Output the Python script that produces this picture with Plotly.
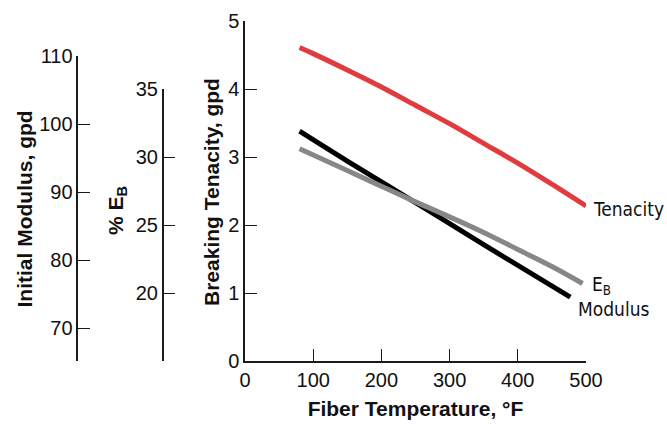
import plotly.graph_objects as go

# ---- data ----
temp_tenacity = [80, 100, 150, 200, 250, 300, 350, 400, 450, 500]
tenacity = [4.61, 4.52, 4.28, 4.03, 3.76, 3.49, 3.20, 2.91, 2.60, 2.28]

temp_modulus = [80, 150, 250, 350, 477]
modulus = [99.0, 94.6, 88.5, 82.3, 74.6]

temp_eb = [80, 150, 200, 250, 300, 350, 400, 450, 495]
eb = [30.6, 29.0, 27.85, 26.7, 25.6, 24.45, 23.2, 21.95, 20.7]

x_ticks = [0, 100, 200, 300, 400, 500]
tenacity_ticks = [0, 1, 2, 3, 4, 5]
modulus_ticks = [70, 80, 90, 100, 110]
eb_ticks = [20, 25, 30, 35]

series_names = ["Tenacity", "Modulus", "E<sub>B</sub>"]

# ---- styling ----
FONT = "Liberation Sans, Arial, Helvetica, sans-serif"
NARROW = "Liberation Sans Narrow, DejaVu Sans Condensed, Arial Narrow, sans-serif"
RED = "#e03c40"
GRAY = "#878787"
BLACK = "#000000"
AXC = "#1a1a1a"

fig = go.Figure()
fig.add_trace(go.Scatter(x=temp_tenacity, y=tenacity, mode="lines", name=series_names[0],
                         line=dict(color=RED, width=5, shape="spline"), xaxis="x", yaxis="y"))
fig.add_trace(go.Scatter(x=temp_eb, y=eb, mode="lines", name="EB",
                         line=dict(color=GRAY, width=5, shape="spline"), xaxis="x", yaxis="y3"))
fig.add_trace(go.Scatter(x=temp_modulus, y=modulus, mode="lines", name=series_names[1],
                         line=dict(color=BLACK, width=5, shape="spline"), xaxis="x", yaxis="y2"))

common = dict(showgrid=False, zeroline=False, showline=True, linecolor=AXC, linewidth=1.5,
              ticks="inside", ticklen=12, tickwidth=1.4, tickcolor=AXC,
              tickfont=dict(family=FONT, size=20, color="#111"), automargin=False)

fig.update_layout(
    width=667, height=424,
    template="none",
    paper_bgcolor="white", plot_bgcolor="rgba(0,0,0,0)",
    showlegend=False,
    margin=dict(l=0, r=81, t=21, b=63),
    xaxis=dict(domain=[245 / 586, 1], range=[0, 500], tickvals=x_ticks, anchor="y",
               title=dict(text="<b>Fiber Temperature, °F</b>", font=dict(family=FONT, size=21, color="#111"),
                          standoff=12),
               **common),
    yaxis=dict(domain=[0, 1], range=[0, 5], tickvals=tenacity_ticks, anchor="x", **common),
    yaxis2=dict(domain=[0, 0.896], range=[65.2, 110], tickvals=modulus_ticks, anchor="free",
                position=77.3 / 586, side="left", **common),
    yaxis3=dict(domain=[0, 0.8], range=[15, 35], tickvals=eb_ticks, anchor="free",
                position=162.7 / 586, side="left", **common),
)

# axis titles for the y axes (rotated, bold)
title_font = dict(family=FONT, size=21, color="#111")
fig.add_annotation(text="<b>Initial Modulus, gpd</b>", xref="paper", yref="paper",
                   x=23.5 / 586, y=(361 - 209) / 340, textangle=-90, showarrow=False,
                   font=title_font, xanchor="center", yanchor="middle")
fig.add_annotation(text="<b>% E<sub>B</sub></b>", xref="paper", yref="paper",
                   x=117 / 586, y=(361 - 211) / 340, textangle=-90, showarrow=False,
                   font=title_font, xanchor="center", yanchor="middle")
fig.add_annotation(text="<b>Breaking Tenacity, gpd</b>", xref="paper", yref="paper",
                   x=211 / 586, y=(361 - 192) / 340, textangle=-90, showarrow=False,
                   font=title_font, xanchor="center", yanchor="middle")

# end-of-line labels, tied to the last point of each series
label_font = dict(family=NARROW, size=19, color="#111")
fig.add_annotation(text=series_names[0], x=temp_tenacity[-1], y=tenacity[-1], xref="x", yref="y",
                   showarrow=False, xanchor="left", yanchor="middle", xshift=5, yshift=-3,
                   font=label_font)
fig.add_annotation(text=series_names[2], x=temp_eb[-1], y=eb[-1], xref="x", yref="y3",
                   showarrow=False, xanchor="left", yanchor="middle", xshift=7, yshift=-2,
                   font=label_font)
fig.add_annotation(text=series_names[1], x=temp_modulus[-1], y=modulus[-1], xref="x", yref="y2",
                   showarrow=False, xanchor="left", yanchor="middle", xshift=6, yshift=-12,
                   font=label_font)

fig.write_html("out.html", config={"displayModeBar": False},
               post_script="document.body.style.margin='0';document.body.style.padding='0';")
